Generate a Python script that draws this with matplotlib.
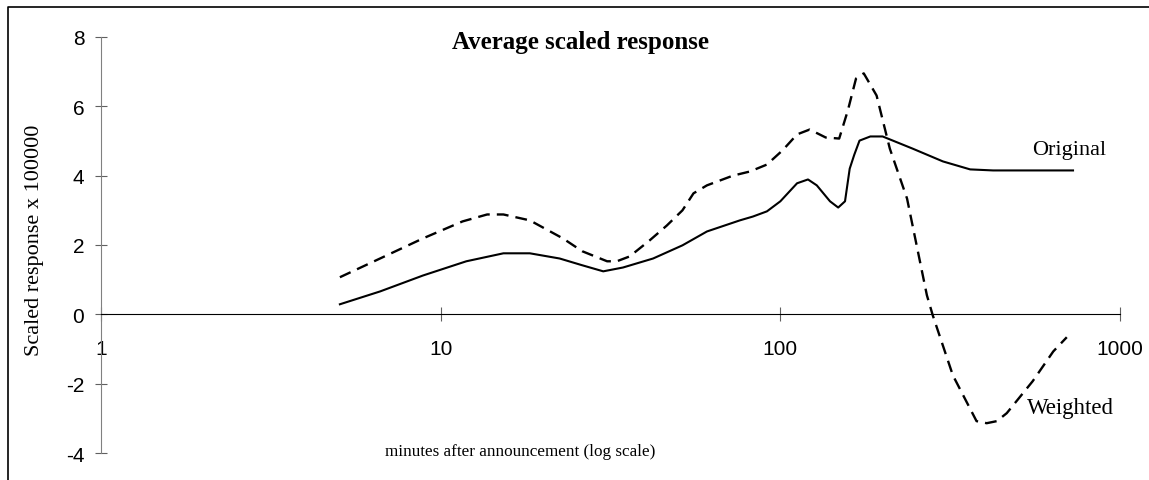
import numpy as np
import matplotlib
matplotlib.use("Agg")
import matplotlib.pyplot as plt
from matplotlib.lines import Line2D

# Values (minutes, scaled response x 100000)
original_minutes = [5.05, 6.63, 8.87, 11.9, 15.3, 18.3, 22.4, 26, 30.1, 34.4, 42.2, 51.5,
                    60.8, 76, 83, 91.3, 100, 112, 120.6, 128, 140, 148, 155, 160, 165,
                    171, 184, 200, 245, 301, 362, 423, 727]
original_response = [0.29, 0.66, 1.12, 1.53, 1.76, 1.76, 1.61, 1.42, 1.24, 1.35, 1.61, 1.99,
                     2.39, 2.71, 2.82, 2.97, 3.26, 3.78, 3.89, 3.72, 3.26, 3.08, 3.26, 4.2, 4.6,
                     5.01, 5.13, 5.13, 4.78, 4.41, 4.18, 4.15, 4.15]

weighted_minutes = [5.05, 6.63, 8.87, 11.6, 13.7, 15.3, 18.3, 22.9, 26.1, 30.9, 33, 36,
                    41.2, 46.3, 51.5, 55.5, 60.8, 72.5, 81.4, 91.3, 101.5, 112, 122, 136,
                    149, 158, 167, 176, 192, 210, 236, 270, 281, 322, 378, 405, 434, 464,
                    553, 636, 697]
weighted_response = [1.07, 1.61, 2.19, 2.68, 2.88, 2.88, 2.71, 2.19, 1.82, 1.53, 1.53, 1.67,
                     2.13, 2.56, 3.0, 3.49, 3.72, 4.0, 4.12, 4.32, 4.73, 5.19, 5.33, 5.10,
                     5.07, 5.88, 6.8, 6.95, 6.31, 4.78, 3.34, 0.55, -0.03, -1.76, -3.08,
                     -3.14, -3.08, -2.85, -1.93, -1.07, -0.66]

x_ticks = [1, 10, 100, 1000]
x_tick_labels = ["1", "10", "100", "1000"]
y_ticks = [-4, -2, 0, 2, 4, 6, 8]

SERIF = ["Liberation Serif", "DejaVu Serif"]
SANS = ["Liberation Sans", "DejaVu Sans"]


def main():
    plt.rcParams["axes.unicode_minus"] = False

    fig = plt.figure(figsize=(11.49, 4.81), dpi=100)
    ax = fig.add_axes([0.0879, 0.0561, 0.8869, 0.865])

    ax.plot(original_minutes, original_response, color="black", lw=1.5)
    ax.plot(weighted_minutes, weighted_response, color="black", lw=1.7,
            linestyle=(0, (5, 3)))

    ax.set_xscale("log")
    ax.set_xlim(1, 1000)
    ax.set_ylim(-4, 8)

    # Excel style axes: x axis crosses at zero, y axis at x=1
    ax.spines["top"].set_visible(False)
    ax.spines["right"].set_visible(False)
    ax.spines["bottom"].set_position(("data", 0))
    ax.spines["bottom"].set_color("black")
    ax.spines["left"].set_color("#808080")

    ax.set_xticks(x_ticks)
    ax.set_xticklabels(x_tick_labels)
    ax.xaxis.set_minor_locator(matplotlib.ticker.NullLocator())
    ax.set_yticks(y_ticks)
    ax.tick_params(axis="x", direction="inout", length=10, color="#606060",
                   pad=13, labelsize=15)
    ax.tick_params(axis="y", direction="inout", length=8, color="#606060",
                   pad=8, labelsize=15)
    for lbl in ax.get_xticklabels() + ax.get_yticklabels():
        lbl.set_family(SANS)

    # text labels
    fig.text(580 / 1149, 1 - 43 / 481, "Average scaled response", family=SERIF,
             fontweight="bold", fontsize=18, ha="center", va="center")
    fig.text(520 / 1149, 1 - 452 / 481, "minutes after announcement (log scale)",
             family=SERIF, fontsize=12.3, ha="center", va="center")
    fig.text(35 / 1149, 1 - 240 / 481, "Scaled response x 100000", family=SERIF,
             fontsize=16, rotation=90, ha="center", va="center")
    ax.text(1069 / 1149, 1 - 151 / 481, "Original", transform=fig.transFigure,
            family=SERIF, fontsize=16, ha="center", va="center")
    ax.text(1070 / 1149, 1 - 409 / 481, "Weighted", transform=fig.transFigure,
            family=SERIF, fontsize=16.5, ha="center", va="center")

    # outer border (only top and left visible in the reference crop)
    bx = 8 / 1149
    by = 1 - 8 / 481
    fig.add_artist(Line2D([bx, bx, 1], [0, by, by], transform=fig.transFigure,
                          color="black", lw=1.2))

    fig.savefig("out.png", dpi=100)


if __name__ == "__main__":
    main()
